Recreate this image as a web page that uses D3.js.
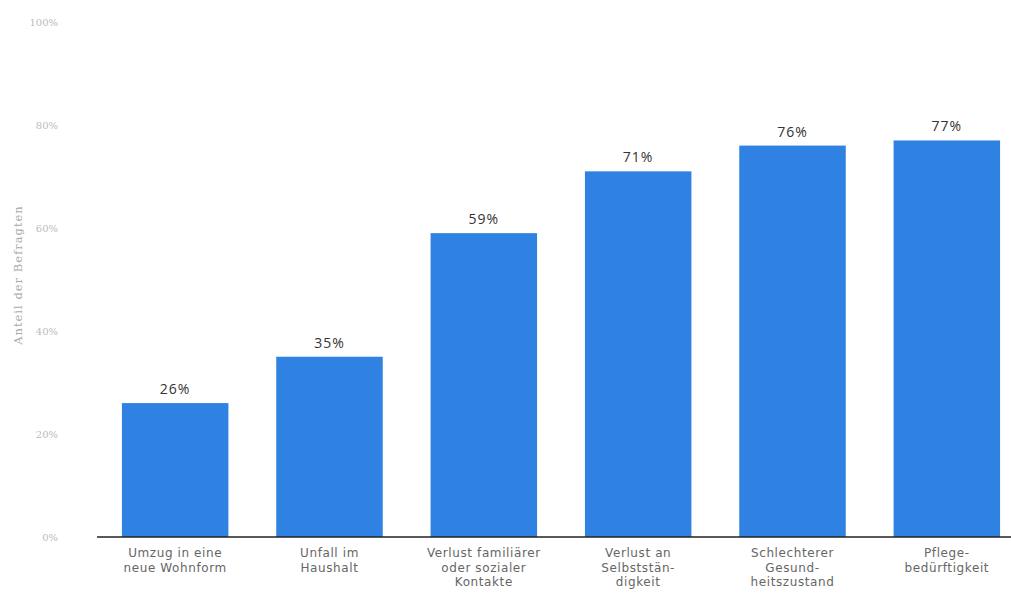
<!DOCTYPE html>
<html>
<head>
<meta charset="utf-8">
<script src="https://cdn.jsdelivr.net/npm/d3@7/dist/d3.min.js"></script>
<style>
  body { margin: 0; background: #fff; }
  svg { display: block; }
</style>
</head>
<body>
<script>
// Gründe für einen Umzug ins Pflegeheim – Anteil der Befragten
let categories = [
  ['Umzug in eine', 'neue Wohnform'],
  ['Unfall im', 'Haushalt'],
  ['Verlust familiärer', 'oder sozialer', 'Kontakte'],
  ['Verlust an', 'Selbststän-', 'digkeit'],
  ['Schlechterer', 'Gesund-', 'heitszustand'],
  ['Pflege-', 'bedürftigkeit']
]
let values = [26, 35, 59, 71, 76, 77]
let yTicks = [0, 20, 40, 60, 80, 100]

let width = 1011
let height = 600

let svg = d3.select('body')
  .append('svg')
  .attr('width', width)
  .attr('height', height)

// x Skala: Bänder für die Kategorien
let xScale = d3.scaleBand()
  .domain(d3.range(values.length))
  .range([98, 1024])
  .paddingInner(0.31)
  .paddingOuter(0.155)

// y Skala: 0 unten, 100 oben
let yScale = d3.scaleLinear()
  .domain([0, 100])
  .range([537, 22])

// Balken
svg.selectAll('.bar')
  .data(values)
  .enter().append('rect')
  .attr('class', 'bar')
  .attr('x', (d, i) => xScale(i))
  .attr('y', d => yScale(d))
  .attr('width', xScale.bandwidth())
  .attr('height', d => yScale(0) - yScale(d))
  .attr('fill', '#2f82e2')

// Werte über den Balken
svg.selectAll('.value')
  .data(values)
  .enter().append('text')
  .attr('class', 'value')
  .attr('x', (d, i) => xScale(i) + xScale.bandwidth() / 2)
  .attr('y', d => yScale(d) - 9)
  .attr('text-anchor', 'middle')
  .attr('font-family', 'Open Sans, sans-serif')
  .attr('font-size', '14px')
  .attr('letter-spacing', '1px')
  .attr('fill', '#333')
  .text(d => d + '%')

// y Achse (nur Beschriftungen)
let yAxis = svg.append('g')
  .attr('class', 'axis axis--y')
  .attr('transform', 'translate(60,0)')
  .call(d3.axisLeft(yScale).tickValues(yTicks).tickSize(0).tickPadding(2).tickFormat(d => d + '%'))
yAxis.select('.domain').remove()
yAxis.selectAll('text')
  .attr('font-family', 'DejaVu Serif, serif')
  .attr('font-size', '10px')
  .attr('fill', '#bbb')

// x Achse
let xAxis = svg.append('g')
  .attr('class', 'axis axis--x')
  .attr('transform', 'translate(0,' + yScale(0) + ')')
  .call(d3.axisBottom(xScale).tickSize(0).tickFormat(''))
xAxis.select('.domain')
  .attr('d', 'M97,0H' + width)
  .attr('stroke', '#222')
  .attr('stroke-width', 1.5)

// Kategorienamen, mehrzeilig
xAxis.selectAll('.tick text').remove()
xAxis.selectAll('.tick')
  .append('text')
  .attr('text-anchor', 'middle')
  .attr('font-family', 'DejaVu Sans, sans-serif')
  .attr('font-size', '12px')
  .attr('letter-spacing', '0.6px')
  .attr('fill', '#666')
  .each(function (d) {
    let t = d3.select(this)
    categories[d].forEach((line, k) => {
      t.append('tspan')
        .attr('x', 0)
        .attr('y', 20 + k * 14.5)
        .text(line)
    })
  })

// y Achsentitel
svg.append('text')
  .attr('transform', 'translate(22,275) rotate(-90)')
  .attr('text-anchor', 'middle')
  .attr('font-family', 'DejaVu Serif, serif')
  .attr('font-size', '11.5px')
  .attr('letter-spacing', '1px')
  .attr('fill', '#aaa')
  .text('Anteil der Befragten')
</script>
</body>
</html>
